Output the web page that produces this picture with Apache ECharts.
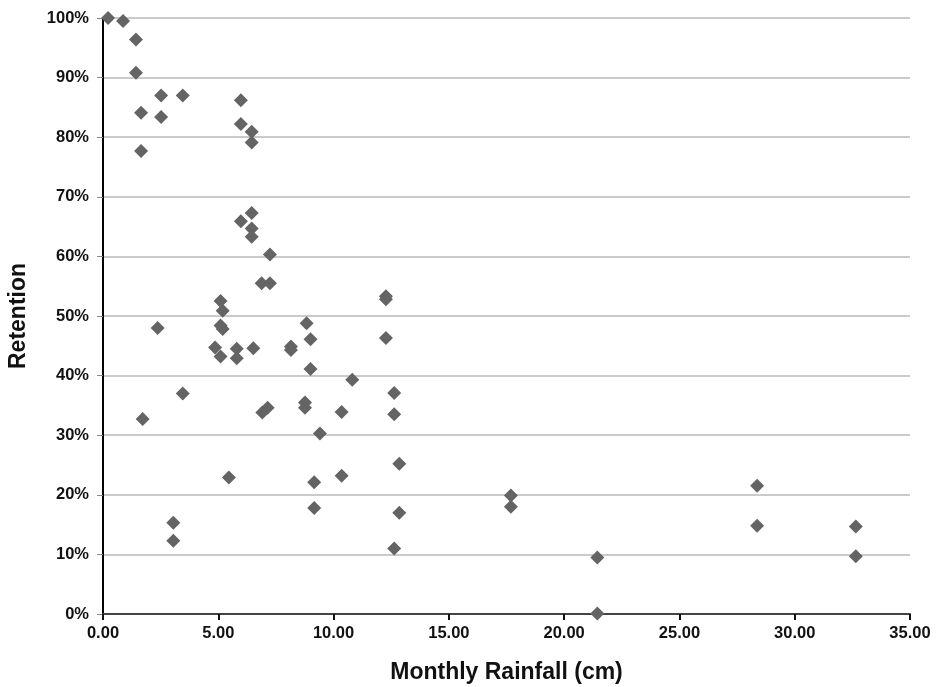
<!DOCTYPE html>
<html>
<head>
<meta charset="utf-8">
<script src="https://cdn.jsdelivr.net/npm/echarts@6/dist/echarts.min.js"></script>
<style>
  html, body { margin: 0; padding: 0; background: #fff; }
  #chart { width: 940px; height: 687px; }
</style>
</head>
<body>
<div id="chart"></div>
<script>
// monthly rainfall (cm) and retention (%)
const rainfall = [
  0.22, 0.87, 1.43, 1.43, 1.65, 1.65, 2.52, 2.52, 3.46, 5.98,
  5.98, 6.45, 6.45, 5.98, 6.45, 6.45, 6.45, 7.24, 6.88, 7.24,
  5.10, 5.19, 5.10, 5.19, 2.37, 4.86, 5.10, 5.80, 5.80, 6.52,
  3.46, 1.72, 6.91, 7.14, 12.27, 12.27, 8.83, 9.00, 12.27, 8.15,
  8.15, 9.00, 10.81, 12.63, 8.76, 8.76, 10.35, 12.63, 9.41, 12.85,
  5.46, 10.35, 9.16, 9.16, 12.85, 12.63, 3.05, 3.05, 17.69, 17.69,
  21.44, 21.44, 28.37, 28.37, 32.65, 32.65
]
const retention = [
  100, 99.5, 96.4, 90.8, 84.1, 77.7, 87.0, 83.4, 87.0, 86.2,
  82.2, 80.9, 79.1, 65.9, 67.3, 64.7, 63.3, 60.3, 55.5, 55.5,
  52.5, 50.9, 48.4, 47.8, 48.0, 44.7, 43.2, 44.5, 42.9, 44.6,
  37.0, 32.7, 33.8, 34.6, 53.3, 52.8, 48.8, 46.1, 46.3, 44.9,
  44.3, 41.1, 39.3, 37.1, 35.5, 34.6, 33.9, 33.5, 30.3, 25.2,
  22.9, 23.2, 22.1, 17.8, 17.0, 11.0, 15.3, 12.3, 19.9, 18.0,
  9.5, 0.1, 21.5, 14.8, 14.7, 9.7
]

const points = rainfall.map((x, i) => [x, retention[i]])

const labelFont = {
  fontFamily: 'Liberation Sans, Arial, sans-serif',
  fontWeight: 'bold',
  color: '#111'
}

const chart = echarts.init(document.getElementById('chart'))
chart.setOption({
  animation: false,
  grid: {
    left: 103,
    right: 30,
    top: 18,
    bottom: 73,
    containLabel: false,
    outerBoundsMode: 'none'
  },
  xAxis: {
    type: 'value',
    min: 0,
    max: 35,
    interval: 5,
    name: 'Monthly Rainfall (cm)',
    nameLocation: 'middle',
    nameGap: 47,
    nameTextStyle: { ...labelFont, fontSize: 23 },
    axisLine: { lineStyle: { color: '#444', width: 2 } },
    axisTick: { show: true, length: 6, lineStyle: { color: '#111', width: 2 } },
    axisLabel: {
      ...labelFont,
      fontSize: 16.5,
      margin: 11,
      formatter: v => v.toFixed(2)
    },
    splitLine: { show: false }
  },
  yAxis: {
    type: 'value',
    min: 0,
    max: 100,
    interval: 10,
    name: 'Retention',
    nameLocation: 'middle',
    nameGap: 73,
    nameRotate: 90,
    nameTextStyle: { ...labelFont, fontSize: 23 },
    axisLine: { show: true, lineStyle: { color: '#000', width: 2 } },
    axisTick: { show: true, length: 6, lineStyle: { color: '#888', width: 1 } },
    axisLabel: {
      ...labelFont,
      fontSize: 16.5,
      margin: 14,
      formatter: v => v + '%'
    },
    splitLine: { lineStyle: { color: '#b8b8b8', width: 1.5 } }
  },
  series: [{
    type: 'scatter',
    symbol: 'diamond',
    symbolSize: [14, 14],
    itemStyle: { color: '#646464', opacity: 1 },
    data: points
  }]
})
</script>
</body>
</html>
